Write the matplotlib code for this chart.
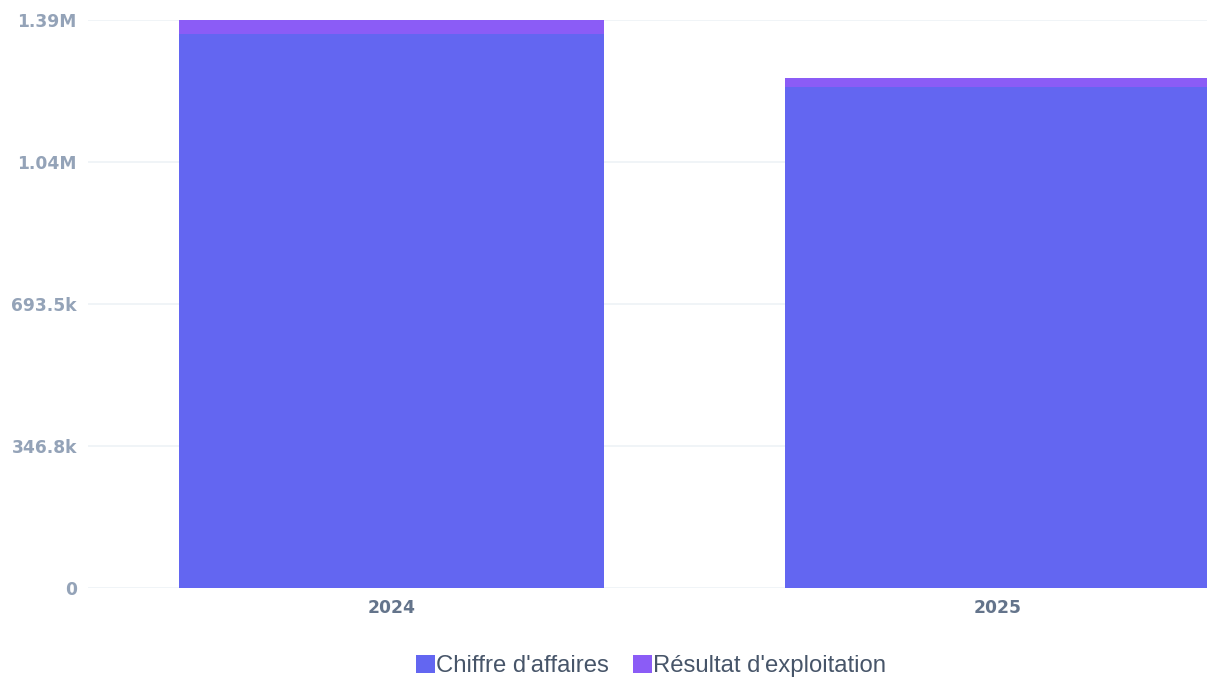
import matplotlib
matplotlib.use("Agg")
import matplotlib.pyplot as plt
import numpy as np

# --- données ---
years = ["2024", "2025"]
chiffre_affaires = [1353000, 1223000]
resultat_exploitation = [34000, 22000]
y_ticks = [0, 346750, 693500, 1040250, 1387000]
y_tick_labels = ["0", "346.8k", "693.5k", "1.04M", "1.39M"]

COL_CA = "#6366f1"
COL_RES = "#8b5cf6"

fig = plt.figure(figsize=(12.07, 6.82), dpi=100)
ax = fig.add_axes([88 / 1207, (682 - 588) / 682, 1 - 88 / 1207, (588 - 20) / 682])

x = np.arange(len(years))
width = 0.7013
ax.bar(x, chiffre_affaires, width=width, color=COL_CA, label="Chiffre d'affaires", zorder=2)
ax.bar(x, resultat_exploitation, width=width, bottom=chiffre_affaires, color=COL_RES,
       label="Résultat d'exploitation", zorder=2)

ax.set_xlim(-0.5008, 1.3457)
ax.set_ylim(0, y_ticks[-1])

ax.set_yticks(y_ticks)
ax.set_yticklabels(y_tick_labels)
ax.set_xticks(x)
ax.set_xticklabels(years)

for lab in ax.get_yticklabels():
    lab.set_color("#94a3b8")
    lab.set_fontweight("bold")
    lab.set_fontsize(12.3)
for lab in ax.get_xticklabels():
    lab.set_color("#64748b")
    lab.set_fontweight("bold")
    lab.set_fontsize(12.3)

ax.tick_params(axis="y", length=0, pad=8)
ax.tick_params(axis="x", length=0, pad=8)
ax.grid(axis="y", color="#eef2f6", linewidth=1.2, zorder=0)
ax.set_axisbelow(True)
for s in ax.spines.values():
    s.set_visible(False)

leg = fig.legend(loc="center", bbox_to_anchor=(651 / 1207, 1 - 666 / 682), ncol=2,
                 frameon=False, handlelength=0.8, handleheight=0.8, handletextpad=0.05,
                 columnspacing=1.0, prop={"family": "Liberation Sans", "size": 17.2})
for t in leg.get_texts():
    t.set_color("#475569")

fig.savefig("out.png", dpi=100)
